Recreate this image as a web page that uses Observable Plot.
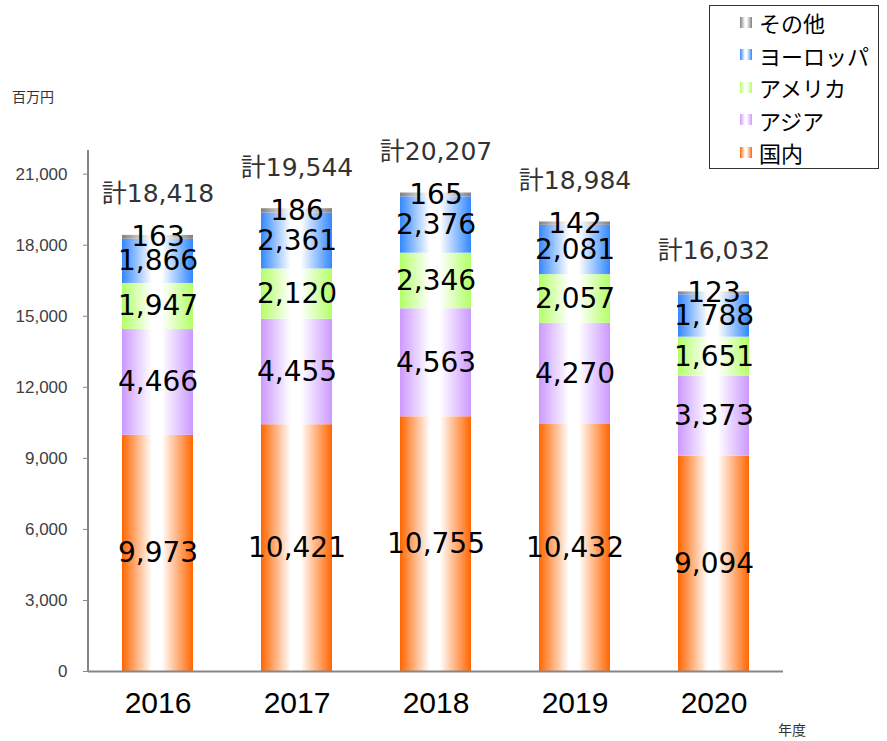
<!DOCTYPE html>
<html>
<head>
<meta charset="utf-8">
<script src="https://cdn.jsdelivr.net/npm/d3@7"></script>
<script src="https://cdn.jsdelivr.net/npm/@observablehq/plot@0.6"></script>
<style>
  html, body { margin: 0; padding: 0; background: #fff; }
  #wrap { position: relative; width: 887px; height: 741px; }
  #wrap svg { position: absolute; left: 0; top: 0; }
  .note { position: absolute; font-family: "Noto Sans CJK JP", sans-serif; font-size: 14px; color: #333; }
  #legend { position: absolute; left: 709px; top: 5px; width: 170px; height: 164px; border: 1px solid #333; box-sizing: border-box; background: #fff; font-family: "Noto Sans CJK JP", sans-serif; }
  .li { position: absolute; left: 30px; height: 30px; display: flex; align-items: center; font-size: 22px; color: #000; }
  .sw { width: 12px; height: 11px; margin-right: 7px; }
</style>
</head>
<body>
<div id="wrap"></div>
<script>
const years = ["2016", "2017", "2018", "2019", "2020"];
const seriesNames = ["国内", "アジア", "アメリカ", "ヨーロッパ", "その他"];
const seriesColors = ["#FF6600", "#CC99FF", "#B3FF66", "#3388FF", "#808080"];
const domestic = [9973, 10421, 10755, 10432, 9094];
const asia = [4466, 4455, 4563, 4270, 3373];
const america = [1947, 2120, 2346, 2057, 1651];
const europe = [1866, 2361, 2376, 2081, 1788];
const other = [163, 186, 165, 142, 123];
const totals = [18418, 19544, 20207, 18984, 16032];
const yTicks = [0, 3000, 6000, 9000, 12000, 15000, 18000, 21000];

const seriesValues = [domestic, asia, america, europe, other];
const data = [];
years.forEach((yr, i) => {
  seriesNames.forEach((s, k) => data.push({year: yr, series: s, value: seriesValues[k][i]}));
});
const totalData = years.map((yr, i) => ({year: yr, total: totals[i]}));
const gradIds = seriesNames.map((s, k) => `grad${k}`);
const fmt = d3.format(",");

function defsMark(index, scales, values, dims) {
  const g = d3.create("svg:g");
  const defs = g.append("defs");
  seriesColors.forEach((c, k) => {
    const lg = defs.append("linearGradient").attr("id", gradIds[k]).attr("x1", "0").attr("x2", "1").attr("y1", "0").attr("y2", "0");
    lg.append("stop").attr("offset", "0").attr("stop-color", c);
    lg.append("stop").attr("offset", "0.42").attr("stop-color", "#fff");
    lg.append("stop").attr("offset", "0.56").attr("stop-color", "#fff");
    lg.append("stop").attr("offset", "1").attr("stop-color", c);
  });
  return g.node();
}

function yAxisLine(index, scales, values, dims) {
  const x = dims.marginLeft;
  return d3.create("svg:line")
    .attr("x1", x).attr("x2", x)
    .attr("y1", dims.marginTop).attr("y2", dims.height - dims.marginBottom)
    .attr("stroke", "#868686").attr("stroke-width", 2).node();
}

const chart = Plot.plot({
  width: 887,
  height: 741,
  marginLeft: 88,
  marginRight: 104,
  marginTop: 150,
  marginBottom: 70,
  style: {background: "transparent", overflow: "visible"},
  x: {domain: years, paddingInner: 0.49, paddingOuter: 0.245, label: null},
  y: {domain: [0, 22000], label: null},
  color: {domain: seriesNames, range: gradIds.map(id => `url(#${id})`)},
  marks: [
    defsMark,
    Plot.barY(data, {x: "year", y: "value", fill: "series", z: "series"}),
    Plot.ruleY([0], {stroke: "#868686", strokeWidth: 2}),
    yAxisLine,
    Plot.axisY({ticks: yTicks, tickFormat: d => fmt(d), tickSize: 5, tickPadding: 16, stroke: "#868686", fill: "#404040", fontSize: 17, fontFamily: "Liberation Sans, Arial, sans-serif", label: null}),
    Plot.axisX({tickSize: 0, tickPadding: 20, fill: "#000", fontSize: 30, fontFamily: "Liberation Sans, Arial, sans-serif", label: null}),
    Plot.text(data, Plot.stackY({x: "year", y: "value", z: "series", text: d => fmt(d.value), fill: "#000", fontSize: 28, fontFamily: "DejaVu Sans, Verdana, sans-serif"})),
    Plot.text(totalData, {x: "year", y: "total", text: d => "計" + fmt(d.total), dy: -41, fill: "#333", fontSize: 25, fontFamily: "DejaVu Sans, 'Noto Sans CJK JP', sans-serif"})
  ]
});

const wrap = document.getElementById("wrap");
wrap.appendChild(chart);

const unit = document.createElement("div");
unit.className = "note";
unit.style.left = "12px"; unit.style.top = "86px";
unit.textContent = "百万円";
wrap.appendChild(unit);

const yearLbl = document.createElement("div");
yearLbl.className = "note";
yearLbl.style.left = "778px"; yearLbl.style.top = "719px";
yearLbl.textContent = "年度";
wrap.appendChild(yearLbl);

const legend = document.createElement("div");
legend.id = "legend";
const legendOrder = seriesNames.map((s, k) => k).reverse();
legendOrder.forEach((k, row) => {
  const item = document.createElement("div");
  item.className = "li";
  item.style.top = (1 + row * 32.5) + "px";
  const sw = document.createElement("div");
  sw.className = "sw";
  const c = seriesColors[k];
  sw.style.background = `linear-gradient(to right, ${c} 0%, #fff 42%, #fff 56%, ${c} 100%)`;
  item.appendChild(sw);
  const t = document.createElement("span");
  t.textContent = seriesNames[k];
  item.appendChild(t);
  legend.appendChild(item);
});
wrap.appendChild(legend);
</script>
</body>
</html>
